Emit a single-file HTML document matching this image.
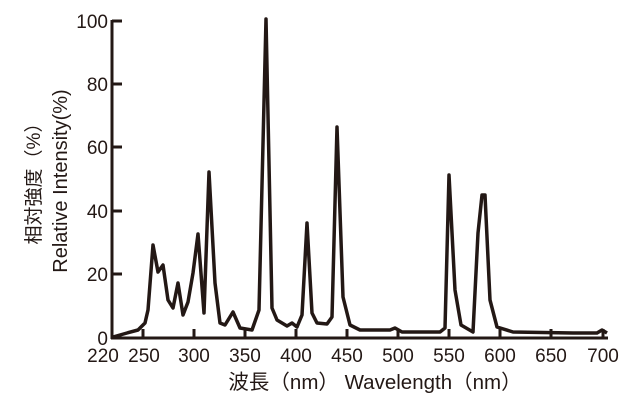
<!DOCTYPE html>
<html><head><meta charset="utf-8"><style>
body{margin:0;background:#fff;}
svg{display:block;}
text{font-family:"Liberation Sans","Noto Sans CJK JP",sans-serif;fill:#231815;}
</style></head><body>
<svg width="640" height="400" viewBox="0 0 640 400">
<g stroke="#231815" stroke-width="3" fill="none">
<line x1="112" y1="20" x2="112" y2="339"/>
<line x1="111" y1="338" x2="608" y2="338"/>
<line x1="112" y1="21" x2="122" y2="21"/>
<line x1="112" y1="84" x2="122" y2="84"/>
<line x1="112" y1="147" x2="122" y2="147"/>
<line x1="112" y1="211" x2="122" y2="211"/>
<line x1="112" y1="274" x2="122" y2="274"/>
<line x1="143" y1="338" x2="143" y2="329"/>
<line x1="194" y1="338" x2="194" y2="329"/>
<line x1="245" y1="338" x2="245" y2="329"/>
<line x1="296" y1="338" x2="296" y2="329"/>
<line x1="347" y1="338" x2="347" y2="329"/>
<line x1="398" y1="338" x2="398" y2="329"/>
<line x1="449" y1="338" x2="449" y2="329"/>
<line x1="500" y1="338" x2="500" y2="329"/>
<line x1="551" y1="338" x2="551" y2="329"/>
<line x1="603" y1="338" x2="603" y2="329"/>
<polyline stroke-width="3.5" stroke-linejoin="round" points="113,337 127,333 138,330 145,323 148,310 153,245 158,272 163,265 168,300 173,308 178,283 183,315 188,302 193,273 198,234 204,313 209,172 215,283 220,323 225,325 233,312 240,328 252,330 259,310 266,19 272,308 277,320 287,326 292,323 297,327 302,315 307,223 312,313 317,323 327,324 332,317 337,127 343,297 350,325 360,330 390,330 395,328 402,332 440,332 445,328 449,175 455,290 461,325 473,332 478,233 482,195 485,195 490,300 497,327 513,332 573,333 597,333 602,330 607,333"/>
</g>
<g font-size="19" text-anchor="end">
<text x="108" y="28">100</text>
<text x="108" y="91">80</text>
<text x="108" y="154">60</text>
<text x="108" y="218">40</text>
<text x="108" y="281">20</text>
<text x="108" y="345">0</text>
</g>
<g font-size="19" text-anchor="middle">
<text x="103" y="362">220</text>
<text x="144" y="362">250</text>
<text x="194" y="362">300</text>
<text x="245" y="362">350</text>
<text x="296" y="362">400</text>
<text x="347" y="362">450</text>
<text x="398" y="362">500</text>
<text x="449" y="362">550</text>
<text x="500" y="362">600</text>
<text x="551" y="362">650</text>
<text x="603" y="362">700</text>
<text x="375" y="389" font-size="20.5">波長（nm） Wavelength（nm）</text>
<text transform="translate(40,179) rotate(-90)" font-size="19">相対強度（%）</text>
<text transform="translate(67,181) rotate(-90)" font-size="20">Relative Intensity(%)</text>
</g>
</svg>
</body></html>
